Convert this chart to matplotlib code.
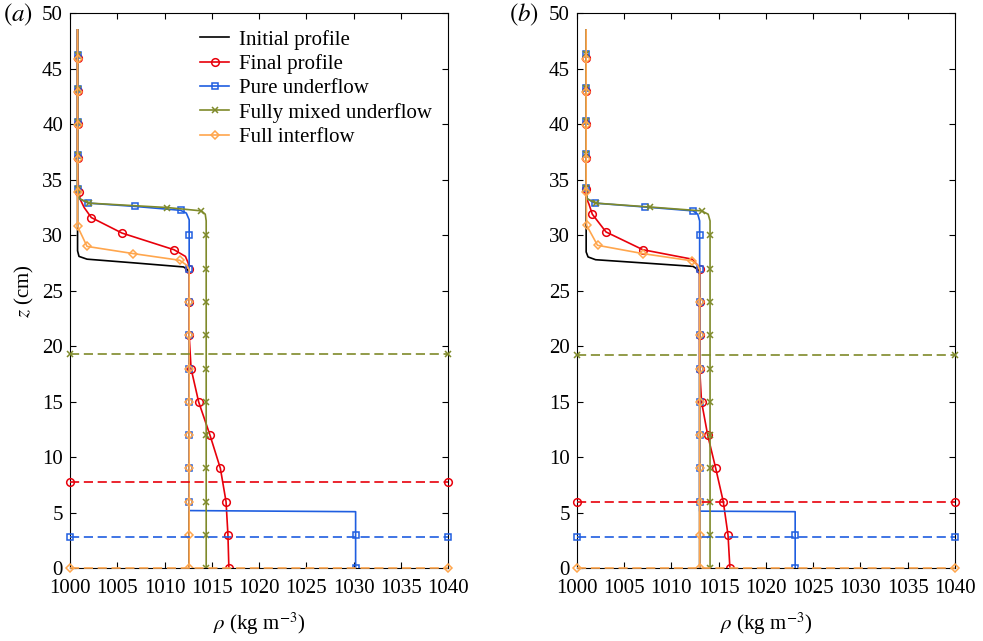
import matplotlib
matplotlib.use("Agg")
import matplotlib.pyplot as plt

plt.rcParams['font.family'] = 'serif'
plt.rcParams['font.serif'] = ['Liberation Serif', 'DejaVu Serif']
plt.rcParams['mathtext.fontset'] = 'stix'
plt.rcParams['font.size'] = 15

# ---- panel (a) ----
a_init_z = [48.5, 28.6, 28.1, 27.85, 27.5, 27.15, 26.9, 26.5, 0]
a_init_rho = [1000.8, 1000.8, 1000.95, 1001.8, 1007.0, 1012.0, 1012.45, 1012.6, 1012.6]

a_final_z = [48.5, 46.0, 43.0, 40.0, 37.0, 33.9, 33.2, 32.5, 31.6, 30.2, 28.7, 28.1, 27.5, 27.0,
             24, 21, 18, 15, 12, 9, 6, 3, 0]
a_final_rho = [1000.8, 1000.8, 1000.8, 1000.8, 1000.8, 1000.9, 1001.1, 1001.5, 1002.25, 1005.5,
               1011.0, 1012.2, 1012.5, 1012.6, 1012.6, 1012.6, 1012.8, 1013.6, 1014.8, 1015.9,
               1016.5, 1016.7, 1016.8]
a_final_mk = [1, 2, 3, 4, 5, 8, 9, 10, 13, 14, 15, 16, 17, 18, 19, 20, 21, 22]

a_pure_z = [48.5, 46.2, 43.2, 40.2, 37.2, 34.2, 33.3, 32.9, 32.6, 32.25, 32.0, 31.4, 30, 27,
            24, 21, 18, 15, 12, 9, 6, 5.2, 5.1, 3, 0]
a_pure_rho = [1000.8, 1000.8, 1000.8, 1000.8, 1000.8, 1000.8, 1001.0, 1001.9, 1006.9, 1011.7,
              1012.3, 1012.6, 1012.6, 1012.6, 1012.6, 1012.6, 1012.6, 1012.6, 1012.6, 1012.6,
              1012.6, 1012.6, 1030.2, 1030.2, 1030.2]
a_pure_mk = [1, 2, 3, 4, 5, 7, 8, 9, 12, 13, 14, 15, 16, 17, 18, 19, 20, 23, 24]

a_mixed_z = [48.5, 46.2, 43.2, 40.2, 37.2, 34.2, 33.3, 32.9, 32.5, 32.2, 31.9, 31.3, 30, 27,
             24, 21, 18, 15, 12, 9, 6, 3, 0]
a_mixed_rho = [1000.8, 1000.8, 1000.8, 1000.8, 1000.8, 1000.8, 1001.0, 1002.0, 1010.3, 1013.9,
               1014.3, 1014.4, 1014.4, 1014.4, 1014.4, 1014.4, 1014.4, 1014.4, 1014.4, 1014.4,
               1014.4, 1014.4, 1014.4]
a_mixed_mk = [1, 2, 3, 4, 5, 7, 8, 9, 12, 13, 14, 15, 16, 17, 18, 19, 20, 21, 22]

a_inter_z = [48.5, 45.9, 42.9, 39.9, 36.9, 33.9, 30.8, 29.0, 28.35, 27.75, 27.3, 26.9,
             24, 21, 18, 15, 12, 9, 6, 3, 0]
a_inter_rho = [1000.8, 1000.8, 1000.8, 1000.8, 1000.8, 1000.8, 1000.8, 1001.8, 1006.7, 1011.6,
               1012.35, 1012.6, 1012.6, 1012.6, 1012.6, 1012.6, 1012.6, 1012.6, 1012.6, 1012.6,
               1012.6]
a_inter_mk = [1, 2, 3, 4, 5, 6, 7, 8, 9, 12, 13, 14, 15, 16, 17, 18, 19, 20]

# levels (dashed): final, pure, mixed, inter
a_levels = [7.8, 2.8, 19.3, 0.0]

# ---- panel (b) ----
b_init_z = [48.5, 28.5, 28.05, 27.8, 27.5, 27.2, 26.9, 26.5, 0]
b_init_rho = [1001.0, 1001.0, 1001.2, 1002.0, 1007.2, 1012.3, 1012.85, 1013.0, 1013.0]

b_final_z = [48.5, 46.0, 43.0, 40.0, 37.0, 34.2, 33.2, 32.8, 31.9, 30.3, 28.7, 27.85, 27.3, 27.0,
             24, 21, 18, 15, 12, 9, 6, 3, 0]
b_final_rho = [1001.0, 1001.0, 1001.0, 1001.0, 1001.0, 1001.0, 1001.1, 1001.3, 1001.65, 1003.1,
               1007.0, 1012.2, 1012.8, 1013.0, 1013.0, 1013.0, 1013.0, 1013.2, 1013.85, 1014.7,
               1015.5, 1016.0, 1016.2]
b_final_mk = [1, 2, 3, 4, 5, 8, 9, 10, 13, 14, 15, 16, 17, 18, 19, 20, 21, 22]

b_pure_z = [48.5, 46.3, 43.3, 40.3, 37.3, 34.3, 33.3, 32.9, 32.55, 32.2, 31.9, 31.3, 30, 27,
            24, 21, 18, 15, 12, 9, 6, 5.15, 5.1, 3, 0]
b_pure_rho = [1001.0, 1001.0, 1001.0, 1001.0, 1001.0, 1001.0, 1001.1, 1001.9, 1007.2, 1012.3,
              1012.8, 1013.0, 1013.0, 1013.0, 1013.0, 1013.0, 1013.0, 1013.0, 1013.0, 1013.0,
              1013.0, 1013.0, 1023.1, 1023.1, 1023.1]
b_pure_mk = [1, 2, 3, 4, 5, 7, 8, 9, 12, 13, 14, 15, 16, 17, 18, 19, 20, 23, 24]

b_mixed_z = [48.5, 46.3, 43.3, 40.3, 37.3, 34.3, 33.3, 32.9, 32.55, 32.2, 31.9, 31.3, 30, 27,
             24, 21, 18, 15, 12, 9, 6, 3, 0]
b_mixed_rho = [1001.0, 1001.0, 1001.0, 1001.0, 1001.0, 1001.0, 1001.1, 1002.0, 1007.7, 1013.2,
               1013.9, 1014.1, 1014.1, 1014.1, 1014.1, 1014.1, 1014.1, 1014.1, 1014.1, 1014.1,
               1014.1, 1014.1, 1014.1]
b_mixed_mk = [1, 2, 3, 4, 5, 7, 8, 9, 12, 13, 14, 15, 16, 17, 18, 19, 20, 21, 22]

b_inter_z = [48.5, 45.9, 42.9, 39.9, 36.9, 33.9, 30.9, 29.1, 28.35, 27.7, 27.3, 26.9,
             24, 21, 18, 15, 12, 9, 6, 3, 0]
b_inter_rho = [1001.0, 1001.0, 1001.0, 1001.0, 1001.0, 1001.0, 1001.05, 1002.2, 1007.0, 1012.2,
               1012.8, 1013.0, 1013.0, 1013.0, 1013.0, 1013.0, 1013.0, 1013.0, 1013.0, 1013.0,
               1013.0]
b_inter_mk = [1, 2, 3, 4, 5, 6, 7, 8, 9, 12, 13, 14, 15, 16, 17, 18, 19, 20]

b_levels = [6.0, 2.8, 19.2, 0.0]

rho_ends = [1000, 1040]
labels = ['Initial profile', 'Final profile', 'Pure underflow',
          'Fully mixed underflow', 'Full interflow']
colors = ['black', '#e8000b', '#1f5ee0', '#7f8a2a', '#ffa64d']
markers = [None, 'o', 's', 'x', 'D']
msizes = [0, 5.5, 4.5, 4, 4.3]


def draw_panel(ax, init, final, pure, mixed, inter, levels, legend=False):
    ax.plot(init[1], init[0], color=colors[0], lw=1.2, label=labels[0])
    series = [final, pure, mixed, inter]
    for i, (z, rho, mk) in enumerate(series, start=1):
        ax.plot(rho, z, color=colors[i], lw=1.2, marker=markers[i], ms=msizes[i],
                mfc='none', mew=1.1, markevery=mk, label=labels[i])
    for i, lev in enumerate(levels, start=1):
        ax.plot(rho_ends, [lev, lev], color=colors[i], lw=1.2, ls=(0, (5.5, 2.8)),
                marker=markers[i], ms=msizes[i], mfc='none', mew=1.1, clip_on=False,
                zorder=3)
    ax.set_xlim(1000, 1040)
    ax.set_ylim(0, 50)
    ax.set_xticks(range(1000, 1041, 5))
    ax.set_yticks(range(0, 51, 5))
    ax.tick_params(direction='in', top=True, right=True, length=4, width=0.8)
    ax.tick_params(axis='x', pad=8)
    ax.tick_params(axis='y', pad=5)
    ax.set_xlabel(r'$\rho$ (kg m$^{-3}$)', labelpad=9)
    if legend:
        ax.legend(loc='upper right', bbox_to_anchor=(0.989, 0.993), frameon=False,
                  handlelength=1.4, handletextpad=0.45, labelspacing=0.22,
                  borderaxespad=0.2, fontsize=15)


fig = plt.figure(figsize=(9.83, 6.41), dpi=100)
bot = 1 - 568.3 / 641
hgt = 555.0 / 641
ax1 = fig.add_axes([70 / 983, bot, 378.3 / 983, hgt])
ax2 = fig.add_axes([576.7 / 983, bot, 378.3 / 983, hgt])

draw_panel(ax1, (a_init_z, a_init_rho), (a_final_z, a_final_rho, a_final_mk),
           (a_pure_z, a_pure_rho, a_pure_mk), (a_mixed_z, a_mixed_rho, a_mixed_mk),
           (a_inter_z, a_inter_rho, a_inter_mk), a_levels, legend=True)
draw_panel(ax2, (b_init_z, b_init_rho), (b_final_z, b_final_rho, b_final_mk),
           (b_pure_z, b_pure_rho, b_pure_mk), (b_mixed_z, b_mixed_rho, b_mixed_mk),
           (b_inter_z, b_inter_rho, b_inter_mk), b_levels)

ax1.set_ylabel(r'$z$ (cm)', labelpad=4)
fig.text(3 / 983, 1 - 15 / 641, r'$(a)$', ha='left', va='center', fontsize=18)
fig.text(509 / 983, 1 - 15 / 641, r'$(b)$', ha='left', va='center', fontsize=18)

fig.savefig('out.png', dpi=100)
